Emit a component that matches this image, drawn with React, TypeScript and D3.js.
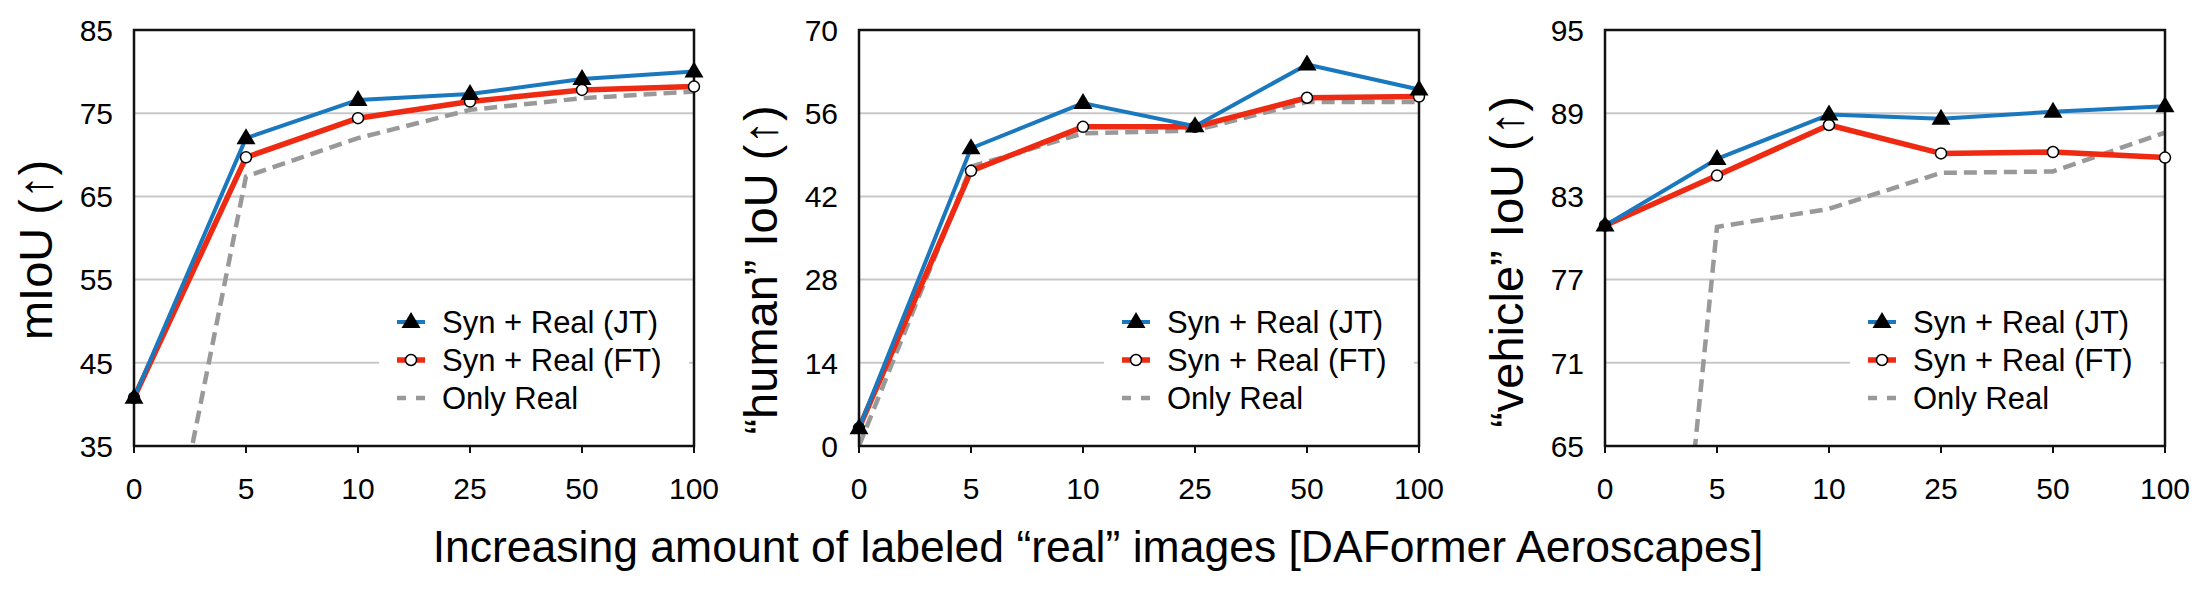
import React, { useEffect, useRef } from 'react';
import * as d3 from 'd3';

// x categories (amount of labeled real images, %)
const xLabels = ['0', '5', '10', '25', '50', '100'];

// mIoU panel
const mIoUTicks = [35, 45, 55, 65, 75, 85];
const mIoUJT = [40.8, 72.0, 76.6, 77.3, 79.1, 80.0];
const mIoUFT = [40.8, 69.7, 74.4, 76.4, 77.8, 78.2];
const mIoUReal = [0, 67.4, 72.0, 75.4, 76.8, 77.6];

// "human" IoU panel
const humanTicks = [0, 14, 28, 42, 56, 70];
const humanJT = [3.0, 50.1, 57.7, 53.8, 64.2, 60.0];
const humanFT = [3.0, 46.3, 53.7, 53.7, 58.6, 58.8];
const humanReal = [0, 47.0, 52.6, 53.1, 57.9, 57.9];

// "vehicle" IoU panel
const vehicleTicks = [65, 71, 77, 83, 89, 95];
const vehicleJT = [80.9, 85.7, 88.9, 88.6, 89.1, 89.5];
const vehicleFT = [80.9, 84.5, 88.15, 86.1, 86.2, 85.8];
const vehicleReal = [0, 80.8, 82.1, 84.7, 84.8, 87.6];

const seriesNames = ['Syn + Real (JT)', 'Syn + Real (FT)', 'Only Real'];

const panels = [
  { title: 'mIoU (\u2191)', ticks: mIoUTicks, jt: mIoUJT, ft: mIoUFT, real: mIoUReal, left: 134, titleY: 250 },
  { title: '\u201chuman\u201d IoU (\u2191)', ticks: humanTicks, jt: humanJT, ft: humanFT, real: humanReal, left: 859, titleY: 270 },
  { title: '\u201cvehicle\u201d IoU (\u2191)', ticks: vehicleTicks, jt: vehicleJT, ft: vehicleFT, real: vehicleReal, left: 1605, titleY: 262 },
];

const FONT = '"Liberation Sans", Arial, Helvetica, sans-serif';
const BLUE = '#1a78be';
const RED = '#ee2a12';
const GRAY = '#999999';

export default function App() {
  const ref = useRef<SVGSVGElement>(null);

  useEffect(() => {
    const svg = d3.select(ref.current);
    svg.selectAll('*').remove();

    const top = 30;
    const height = 416;
    const width = 560;

    const tri = 'M0,-10L9.5,6L-9.5,6Z';

    panels.forEach((p, pi) => {
      const g = svg.append('g').attr('transform', `translate(${p.left},${top})`);

      const x = d3.scalePoint<string>().domain(xLabels).range([0, width]).padding(0);
      const y = d3.scaleLinear().domain([p.ticks[0], p.ticks[p.ticks.length - 1]]).range([height, 0]);

      const clipId = `clip-${pi}`;
      g.append('clipPath').attr('id', clipId)
        .append('rect').attr('x', 0).attr('y', -20).attr('width', width + 20).attr('height', height + 20);

      // grid
      g.selectAll('.grid')
        .data(p.ticks.slice(1, -1))
        .enter().append('line')
          .attr('x1', 0).attr('x2', width)
          .attr('y1', (d) => y(d)).attr('y2', (d) => y(d))
          .attr('stroke', '#c8c8c8').attr('stroke-width', 2);

      // y tick labels
      g.selectAll('.ylab')
        .data(p.ticks)
        .enter().append('text')
          .attr('x', -21).attr('y', (d) => y(d))
          .attr('dy', '0.36em')
          .attr('text-anchor', 'end')
          .attr('font-family', FONT).attr('font-size', 30)
          .text((d) => d);

      // x ticks + labels
      g.selectAll('.xtick')
        .data(xLabels)
        .enter().append('line')
          .attr('x1', (d) => x(d)!).attr('x2', (d) => x(d)!)
          .attr('y1', height).attr('y2', height + 7)
          .attr('stroke', '#111').attr('stroke-width', 2);
      g.selectAll('.xlab')
        .data(xLabels)
        .enter().append('text')
          .attr('x', (d) => x(d)!).attr('y', height + 42)
          .attr('dy', '0.36em')
          .attr('text-anchor', 'middle')
          .attr('font-family', FONT).attr('font-size', 30)
          .text((d) => d);

      // y title
      g.append('text')
        .attr('transform', `translate(${-82},${p.titleY - top}) rotate(-90)`)
        .attr('text-anchor', 'middle')
        .attr('font-family', FONT).attr('font-size', 47)
        .text(p.title);

      // legend background
      g.append('rect')
        .attr('x', 245).attr('y', 266).attr('width', 310).attr('height', 124)
        .attr('fill', '#fff');

      const line = d3.line<number>()
        .x((d, i) => x(xLabels[i])!)
        .y((d) => y(d));

      const lines = g.append('g').attr('clip-path', `url(#${clipId})`);
      lines.append('path').datum(p.real)
        .attr('d', line).attr('fill', 'none')
        .attr('stroke', GRAY).attr('stroke-width', 4.5).attr('stroke-dasharray', '13,7');
      lines.append('path').datum(p.ft)
        .attr('d', line).attr('fill', 'none')
        .attr('stroke', RED).attr('stroke-width', 5.5).attr('stroke-linejoin', 'round');
      lines.append('path').datum(p.jt)
        .attr('d', line).attr('fill', 'none')
        .attr('stroke', BLUE).attr('stroke-width', 4).attr('stroke-linejoin', 'round');

      // frame
      g.append('rect')
        .attr('x', 0).attr('y', 0).attr('width', width).attr('height', height)
        .attr('fill', 'none').attr('stroke', '#111').attr('stroke-width', 2.5);

      // markers
      g.selectAll('.ft')
        .data(p.ft)
        .enter().append('circle')
          .attr('cx', (d, i) => x(xLabels[i])!).attr('cy', (d) => y(d))
          .attr('r', 5.5).attr('fill', '#fff').attr('stroke', '#000').attr('stroke-width', 1.5);
      g.selectAll('.jt')
        .data(p.jt)
        .enter().append('path')
          .attr('d', tri)
          .attr('transform', (d, i) => `translate(${x(xLabels[i])},${y(d)})`)
          .attr('fill', '#000');

      // legend
      const lg = g.append('g').attr('transform', 'translate(277,0)');
      const rows = [292, 330, 368];
      seriesNames.forEach((name, i) => {
        const r = lg.append('g').attr('transform', `translate(0,${rows[i]})`);
        if (i === 0) {
          r.append('line').attr('x1', -14).attr('x2', 14).attr('stroke', BLUE).attr('stroke-width', 4);
          r.append('path').attr('d', tri).attr('fill', '#000');
        } else if (i === 1) {
          r.append('line').attr('x1', -14).attr('x2', 14).attr('stroke', RED).attr('stroke-width', 5.5);
          r.append('circle').attr('r', 5.5).attr('fill', '#fff').attr('stroke', '#000').attr('stroke-width', 1.5);
        } else {
          r.append('line').attr('x1', -14).attr('x2', 14).attr('stroke', GRAY).attr('stroke-width', 4.5)
            .attr('stroke-dasharray', '9,10');
        }
        r.append('text')
          .attr('x', 31).attr('dy', '0.36em')
          .attr('font-family', FONT).attr('font-size', 31)
          .text(name);
      });
    });

    // shared x title
    svg.append('text')
      .attr('x', 1098).attr('y', 562)
      .attr('text-anchor', 'middle')
      .attr('font-family', FONT).attr('font-size', 44.5)
      .text('Increasing amount of labeled \u201creal\u201d images [DAFormer Aeroscapes]');
  }, []);

  return (
    <svg ref={ref} width={2200} height={594}
      style={{ position: 'absolute', left: 0, top: 0, background: '#fff' }} />
  );
}
